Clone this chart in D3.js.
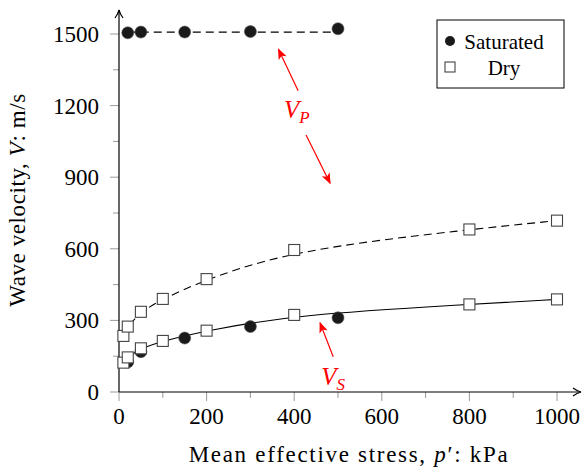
<!DOCTYPE html>
<html>
<head>
<meta charset="utf-8">
<script src="https://cdn.jsdelivr.net/npm/d3@7"></script>
<style>
body { margin: 0; background: #fff; }
svg text { font-family: "Liberation Serif", "Times New Roman", serif; }
</style>
</head>
<body>
<div id="chart"></div>
<script>
// saturated samples (filled circles)
var satP_stress = [20, 50, 150, 300, 500];
var satP_vel = [1505, 1508, 1508, 1510, 1522];
var satS_stress = [20, 50, 150, 300, 500];
var satS_vel = [126, 169, 226, 274, 311];
// dry samples (open squares)
var dry_stress = [10, 20, 50, 100, 200, 400, 800, 1000];
var dryP_vel = [235, 274, 336, 390, 473, 595, 681, 718];
var dryS_vel = [123, 145, 183, 214, 257, 323, 367, 388];
// fitted line for saturated P-wave
var fitP_stress = [20, 500];
var fitP_vel = [1508, 1508];

var xTicks = [0, 200, 400, 600, 800, 1000];
var yTicks = [0, 300, 600, 900, 1200, 1500];

var W = 582, H = 470;
var FONT = "'Liberation Serif', 'Times New Roman', serif";

var x = d3.scaleLinear().domain([0, 1000]).range([119, 557]);
var y = d3.scaleLinear().domain([0, 1500]).range([392, 34]);

var svg = d3.select("#chart").append("svg")
    .attr("width", W)
    .attr("height", H)
    .attr("font-family", FONT);

var defs = svg.append("defs");
defs.append("marker").attr("id", "axarrow")
    .attr("viewBox", "0 0 10 10").attr("refX", 9).attr("refY", 5)
    .attr("markerWidth", 10).attr("markerHeight", 10)
    .attr("markerUnits", "userSpaceOnUse")
    .attr("orient", "auto")
    .append("path").attr("d", "M1,1 Q5,4 9,5 Q5,6 1,9").attr("fill", "none")
    .attr("stroke", "#000").attr("stroke-width", 1.2);
defs.append("marker").attr("id", "redarrow")
    .attr("viewBox", "0 0 10 10").attr("refX", 9).attr("refY", 5)
    .attr("markerWidth", 11).attr("markerHeight", 11)
    .attr("markerUnits", "userSpaceOnUse")
    .attr("orient", "auto")
    .append("path").attr("d", "M0,1 L10,5 L0,9 L2.5,5 Z").attr("fill", "red");

// ticks
var xMinor = d3.range(0, 1001, 100);
var yMinor = d3.range(0, 1501, 150);
var tickColor = "#9a9a9a";

svg.append("g").selectAll("line").data(xMinor).enter().append("line")
    .attr("x1", function (d) { return x(d); })
    .attr("x2", function (d) { return x(d); })
    .attr("y1", y(0))
    .attr("y2", function (d) { return y(0) + (d % 200 == 0 ? 9 : 6); })
    .attr("stroke", tickColor).attr("stroke-width", 1);

svg.append("g").selectAll("line").data(yMinor).enter().append("line")
    .attr("y1", function (d) { return y(d); })
    .attr("y2", function (d) { return y(d); })
    .attr("x1", x(0))
    .attr("x2", function (d) { return x(0) - (d % 300 == 0 ? 9 : 6); })
    .attr("stroke", tickColor).attr("stroke-width", 1);

// tick labels
svg.append("g").selectAll("text").data(xTicks).enter().append("text")
    .attr("x", function (d) { return x(d); })
    .attr("y", 424)
    .attr("text-anchor", "middle")
    .attr("font-family", FONT)
    .attr("font-size", 23)
    .text(function (d) { return d; });

svg.append("g").selectAll("text").data(yTicks).enter().append("text")
    .attr("x", 99)
    .attr("y", function (d) { return y(d) + 8; })
    .attr("text-anchor", "end")
    .attr("font-family", FONT)
    .attr("font-size", 23)
    .text(function (d) { return d; });

// axes with arrows
svg.append("line").attr("x1", x(0)).attr("y1", y(0)).attr("x2", 581).attr("y2", y(0))
    .attr("stroke", "#000").attr("stroke-width", 1.2).attr("marker-end", "url(#axarrow)");
svg.append("line").attr("x1", x(0)).attr("y1", y(0)).attr("x2", x(0)).attr("y2", 10)
    .attr("stroke", "#000").attr("stroke-width", 1.2).attr("marker-end", "url(#axarrow)");

// axis titles
var xt = svg.append("text").attr("x", 349).attr("y", 462)
    .attr("text-anchor", "middle").attr("font-size", 23).attr("font-family", FONT)
    .attr("letter-spacing", 1.7);
xt.append("tspan").text("Mean effective stress, ");
xt.append("tspan").attr("font-style", "italic").text("p");
xt.append("tspan").text("\u2032: kPa");

var yt = svg.append("text")
    .attr("transform", "translate(25,200) rotate(-90)")
    .attr("text-anchor", "middle").attr("font-size", 23).attr("font-family", FONT)
    .attr("letter-spacing", 0.6);
yt.append("tspan").text("Wave velocity, ");
yt.append("tspan").attr("font-style", "italic").text("V");
yt.append("tspan").text(": m/s");

// lines (smooth fits)
var line = d3.line()
    .x(function (d) { return x(d[0]); })
    .y(function (d) { return y(d[1]); })
    .curve(d3.curveBasis);

svg.append("path")
    .datum(d3.zip(fitP_stress, fitP_vel))
    .attr("d", line).attr("fill", "none")
    .attr("stroke", "#000").attr("stroke-width", 1.1).attr("stroke-dasharray", "8,5");

svg.append("path")
    .datum(d3.zip(dry_stress, dryP_vel))
    .attr("d", line).attr("fill", "none")
    .attr("stroke", "#000").attr("stroke-width", 1.1).attr("stroke-dasharray", "8,5");

svg.append("path")
    .datum(d3.zip(dry_stress, dryS_vel))
    .attr("d", line).attr("fill", "none")
    .attr("stroke", "#000").attr("stroke-width", 1.1);

// markers
var circFill = "#1a1a1a";
function circles(sx, sv) {
    svg.append("g").selectAll("circle").data(d3.zip(sx, sv)).enter().append("circle")
        .attr("cx", function (d) { return x(d[0]); })
        .attr("cy", function (d) { return y(d[1]); })
        .attr("r", 6)
        .attr("fill", circFill).attr("stroke", "#555").attr("stroke-width", 0.6);
}
function squares(sx, sv) {
    svg.append("g").selectAll("rect").data(d3.zip(sx, sv)).enter().append("rect")
        .attr("x", function (d) { return x(d[0]) - 5.5; })
        .attr("y", function (d) { return y(d[1]) - 5.5; })
        .attr("width", 11).attr("height", 11)
        .attr("fill", "#fff").attr("stroke", "#444").attr("stroke-width", 1.1);
}
circles(satP_stress, satP_vel);
circles(satS_stress, satS_vel);
squares(dry_stress, dryS_vel);
squares(dry_stress, dryP_vel);

// annotations
function arrow(x1, y1, x2, y2) {
    svg.append("line")
        .attr("x1", x(x1)).attr("y1", y(y1))
        .attr("x2", x(x2)).attr("y2", y(y2))
        .attr("stroke", "red").attr("stroke-width", 1.2)
        .attr("marker-end", "url(#redarrow)");
}
arrow(409, 1262, 364, 1436);
arrow(427, 1077, 482, 875);
arrow(489, 148, 459, 290);

function vlabel(px, pv, sub) {
    var t = svg.append("text").attr("x", x(px)).attr("y", y(pv))
        .attr("text-anchor", "middle").attr("fill", "red").attr("font-family", FONT)
        .attr("font-size", 25).attr("font-style", "italic");
    t.append("tspan").text("V");
    t.append("tspan").attr("font-size", 17).attr("dy", 5).text(sub);
}
vlabel(406, 1150, "P");
vlabel(489, 30, "S");

// legend
var lg = svg.append("g");
lg.append("rect").attr("x", 437).attr("y", 20).attr("width", 127).attr("height", 68)
    .attr("fill", "#fff").attr("stroke", "#000").attr("stroke-width", 1);
lg.append("circle").attr("cx", 450).attr("cy", 41).attr("r", 5).attr("fill", circFill);
lg.append("rect").attr("x", 445).attr("y", 62).attr("width", 10).attr("height", 10)
    .attr("fill", "#fff").attr("stroke", "#444").attr("stroke-width", 1.1);
lg.append("text").attr("x", 504).attr("y", 49).attr("text-anchor", "middle")
    .attr("font-family", FONT).attr("font-size", 21).text("Saturated");
lg.append("text").attr("x", 504).attr("y", 75).attr("text-anchor", "middle")
    .attr("font-family", FONT).attr("font-size", 21).text("Dry");
</script>
</body>
</html>
